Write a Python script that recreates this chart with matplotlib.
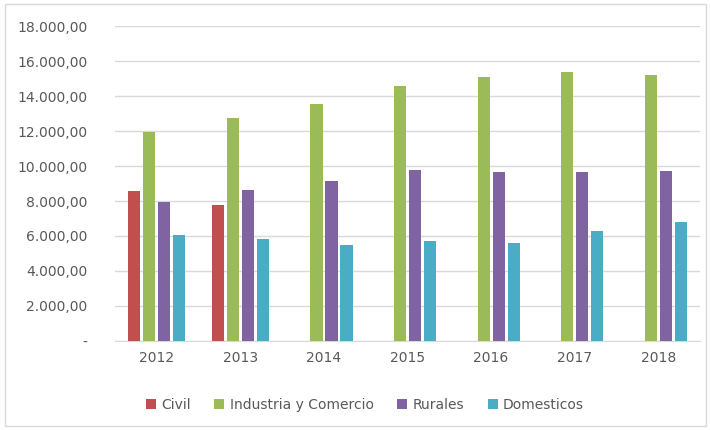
import matplotlib
matplotlib.use('Agg')
import matplotlib.pyplot as plt
from matplotlib.patches import Rectangle
from matplotlib.ticker import FuncFormatter
import numpy as np

# Values
years = ['2012', '2013', '2014', '2015', '2016', '2017', '2018']
civil = [8600, 7750, 0, 0, 0, 0, 0]
industria = [11950, 12720, 13540, 14570, 15090, 15370, 15200]
rurales = [7960, 8630, 9120, 9790, 9660, 9660, 9730]
domesticos = [6040, 5850, 5500, 5710, 5580, 6270, 6800]

series = [
    ('Civil', civil, '#C0504D'),
    ('Industria y Comercio', industria, '#9BBB59'),
    ('Rurales', rurales, '#8064A2'),
    ('Domesticos', domesticos, '#4BACC6'),
]

text_color = '#595959'
grid_color = '#D9D9D9'

fig = plt.figure(figsize=(7.1, 4.3), dpi=100)
ax = fig.add_axes([0.162, 0.207, 0.824, 0.7325])

x = np.arange(len(years))
step = 0.18
width = 0.145
for i, (name, vals, color) in enumerate(series):
    ax.bar(x + (i - 1.5) * step, vals, width=width, color=color, label=name, zorder=3)

ax.set_xlim(-0.5, len(years) - 0.5)
ax.set_ylim(0, 18000)
ax.set_yticks(np.arange(0, 18001, 2000))


def fmt(v, pos):
    if v == 0:
        return '-'
    s = f'{v:,.2f}'
    return s.replace(',', 'X').replace('.', ',').replace('X', '.')


ax.yaxis.set_major_formatter(FuncFormatter(fmt))
ax.set_xticks(x)
ax.set_xticklabels(years)

ax.grid(axis='y', color=grid_color, linewidth=1, zorder=0)
for side in ['top', 'right', 'left']:
    ax.spines[side].set_visible(False)
ax.spines['bottom'].set_color(grid_color)
ax.tick_params(axis='both', length=0, labelsize=10, colors=text_color)
ax.tick_params(axis='y', pad=20)
ax.tick_params(axis='x', pad=7)

fig.legend(loc='center', bbox_to_anchor=(365 / 710, 1 - 405 / 430), ncol=4,
           frameon=False, fontsize=10, handlelength=0.7, handleheight=0.7,
           handletextpad=0.4, columnspacing=1.7, labelcolor=text_color)

# light border around the chart area
fig.patches.append(Rectangle((0.007, 0.01), 0.988, 0.98, transform=fig.transFigure,
                             fill=False, edgecolor='#D9D9D9', linewidth=1))

fig.savefig('out.png', dpi=100)
